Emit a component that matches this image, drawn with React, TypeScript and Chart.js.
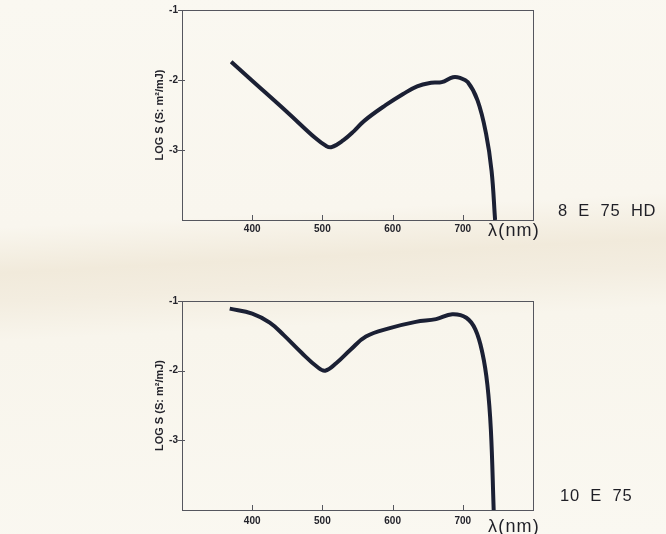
import React, { useEffect, useRef } from 'react';
import { Chart, registerables } from 'chart.js';

Chart.register(...registerables);

// ---- data ----
const xTickValues = [400, 500, 600, 700];
const yTickValues = [-1, -2, -3];

const topWavelengths = [370, 400, 450, 490, 505, 513, 530, 545, 560, 590, 615, 635, 655, 670, 686, 696, 707, 721, 733, 741, 746];
const topLogS = [-1.74, -2.01, -2.46, -2.83, -2.94, -2.96, -2.86, -2.73, -2.58, -2.36, -2.2, -2.09, -2.04, -2.03, -1.96, -1.97, -2.03, -2.29, -2.76, -3.3, -4.0];

const bottomWavelengths = [368, 400, 425, 445, 470, 492, 504, 520, 540, 562, 596, 633, 662, 685, 705, 718, 728, 735, 740, 744];
const bottomLogS = [-1.11, -1.18, -1.31, -1.49, -1.74, -1.94, -2.0, -1.89, -1.7, -1.51, -1.39, -1.3, -1.26, -1.19, -1.24, -1.41, -1.75, -2.2, -2.85, -4.0];

const topLabel = '8 E 75 HD';
const bottomLabel = '10 E 75';
const xUnitLabel = 'λ(nm)';
const yAxisTitle = 'LOG S (S: m²/mJ)';

const LINE = '#1b2034';
const TEXT = '#23232b';
const FRAME = '#55565e';

const framePlugin = {
  id: 'frame',
  beforeDatasetsDraw(chart: any) {
    const { ctx, chartArea: a, scales } = chart;
    ctx.save();
    ctx.strokeStyle = FRAME;
    ctx.lineWidth = 1;
    ctx.strokeRect(Math.round(a.left) + 0.5, Math.round(a.top) + 0.5, a.right - a.left, a.bottom - a.top);
    ctx.beginPath();
    xTickValues.forEach((v) => {
      const px = Math.round(scales.x.getPixelForValue(v)) + 0.5;
      ctx.moveTo(px, a.bottom + 1);
      ctx.lineTo(px, a.bottom - 5);
    });
    yTickValues.forEach((v) => {
      const py = Math.round(scales.y.getPixelForValue(v)) + 0.5;
      ctx.moveTo(a.left - 4, py);
      ctx.lineTo(a.left + 3, py);
    });
    ctx.stroke();
    ctx.restore();
  },
};

function makeConfig(xs: number[], ys: number[], padTop: number, axisH: number, labelPad: number): any {
  const tickFont = { family: '"Liberation Sans", Arial, sans-serif', weight: 'bold', size: 10 };
  return {
    type: 'line',
    data: {
      datasets: [
        {
          data: xs.map((x, i) => ({ x, y: ys[i] })),
          borderColor: LINE,
          borderWidth: 4,
          pointRadius: 0,
          fill: false,
          tension: 0.4,
          borderCapStyle: 'butt',
          borderJoinStyle: 'round',
        },
      ],
    },
    options: {
      animation: false,
      responsive: true,
      maintainAspectRatio: false,
      layout: { padding: { left: 150, right: 133, top: padTop, bottom: 0 } },
      plugins: { legend: { display: false }, tooltip: { enabled: false }, title: { display: false } },
      scales: {
        x: {
          type: 'linear',
          min: 300,
          max: 800,
          afterFit: (s: any) => {
            s.height = axisH;
          },
          grid: { display: false, drawTicks: false },
          border: { display: false },
          ticks: {
            stepSize: 100,
            padding: labelPad,
            color: TEXT,
            font: tickFont,
            maxRotation: 0,
            autoSkip: false,
            callback: (v: any) => (xTickValues.includes(Number(v)) ? String(v) : ''),
          },
        },
        y: {
          type: 'linear',
          min: -4,
          max: -1,
          afterFit: (s: any) => {
            s.width = 32;
          },
          grid: { display: false, drawTicks: false },
          border: { display: false },
          ticks: {
            stepSize: 1,
            padding: 4,
            color: TEXT,
            font: tickFont,
            callback: (v: any) => (yTickValues.includes(Number(v)) ? String(v) : ''),
          },
          title: {
            display: true,
            text: yAxisTitle,
            color: TEXT,
            padding: { top: 3, bottom: 0 },
            font: { family: '"Liberation Sans", Arial, sans-serif', weight: 'bold', size: 11 },
          },
        },
      },
    },
    plugins: [framePlugin],
  };
}

function Panel(props: { top: number; height: number; xs: number[]; ys: number[]; padTop: number; axisH: number; labelPad: number }) {
  const ref = useRef<HTMLCanvasElement | null>(null);
  useEffect(() => {
    if (!ref.current) return;
    const chart = new Chart(ref.current, makeConfig(props.xs, props.ys, props.padTop, props.axisH, props.labelPad));
    return () => chart.destroy();
  }, []);
  return (
    <div style={{ position: 'absolute', left: 0, top: props.top, width: 666, height: props.height }}>
      <canvas ref={ref} />
    </div>
  );
}

const labelStyle: React.CSSProperties = {
  position: 'absolute',
  fontFamily: '"Liberation Sans", Arial, sans-serif',
  color: '#1f1f26',
  whiteSpace: 'nowrap',
};

export default function App() {
  return (
    <div
      style={{
        position: 'fixed',
        left: 0,
        top: 0,
        width: 666,
        height: 534,
        overflow: 'hidden',
        background:
          'linear-gradient(177deg, #faf8f1 0%, #f9f6ee 40%, #f1eadb 48%, #f3ede0 53%, #f8f5ec 60%, #faf8f1 100%)',
      }}
    >
      <Panel top={0} height={250} xs={topWavelengths} ys={topLogS} padTop={10} axisH={30} labelPad={3} />
      <Panel top={290} height={244} xs={bottomWavelengths} ys={bottomLogS} padTop={11} axisH={24} labelPad={5} />
      <div style={{ ...labelStyle, left: 488, top: 221, fontSize: 18, lineHeight: '18px', letterSpacing: 1.2 }}>{xUnitLabel}</div>
      <div style={{ ...labelStyle, left: 488, top: 517, fontSize: 18, lineHeight: '18px', letterSpacing: 1.2 }}>{xUnitLabel}</div>
      <div style={{ ...labelStyle, left: 558, top: 202, fontSize: 16.5, lineHeight: '16px', letterSpacing: 0.8, wordSpacing: 5 }}>{topLabel}</div>
      <div style={{ ...labelStyle, left: 560, top: 487, fontSize: 16.5, lineHeight: '16px', letterSpacing: 0.8, wordSpacing: 5 }}>{bottomLabel}</div>
    </div>
  );
}
